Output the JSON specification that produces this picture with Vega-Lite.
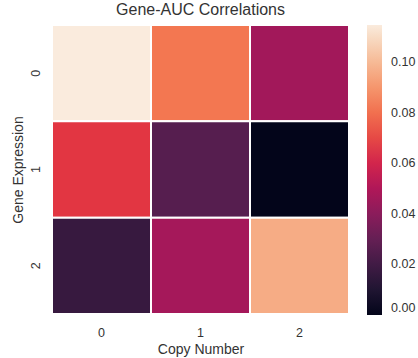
{
  "$schema": "https://vega.github.io/schema/vega-lite/v6.json",
  "width": 297,
  "height": 289,
  "autosize": {"type": "none"},
  "padding": {"left": 52, "top": 25, "right": 69, "bottom": 44},
  "background": "white",
  "title": {"text": "Gene-AUC Correlations", "fontSize": 16, "font": "Liberation Sans", "fontWeight": "normal", "color": "#333333", "offset": 6},
  "data": {"values": [
    {"cn": "0", "ge": "0", "v": 0.1146},
    {"cn": "1", "ge": "0", "v": 0.082},
    {"cn": "2", "ge": "0", "v": 0.046},
    {"cn": "0", "ge": "1", "v": 0.066},
    {"cn": "1", "ge": "1", "v": 0.026},
    {"cn": "2", "ge": "1", "v": 0.0},
    {"cn": "0", "ge": "2", "v": 0.017},
    {"cn": "1", "ge": "2", "v": 0.047},
    {"cn": "2", "ge": "2", "v": 0.096}
  ]},
  "mark": {"type": "rect", "stroke": "white", "strokeWidth": 2},
  "encoding": {
    "x": {"field": "cn", "type": "ordinal", "title": "Copy Number",
      "scale": {"paddingInner": 0, "paddingOuter": 0},
      "axis": {"labelAngle": 0, "domain": false, "ticks": false, "labelPadding": 12, "labelFontSize": 12.5, "titleFontSize": 14, "titleFontWeight": "normal", "labelFont": "Liberation Sans", "titleFont": "Liberation Sans", "labelColor": "#333333", "titleColor": "#333333", "titlePadding": 4}},
    "y": {"field": "ge", "type": "ordinal", "title": "Gene Expression",
      "scale": {"paddingInner": 0, "paddingOuter": 0},
      "axis": {"labelAngle": -90, "domain": false, "ticks": false, "labelPadding": 17, "labelFontSize": 12.5, "titleFontSize": 14, "titleFontWeight": "normal", "labelFont": "Liberation Sans", "titleFont": "Liberation Sans", "labelColor": "#333333", "titleColor": "#333333", "titlePadding": 4, "labelBaseline": "middle", "labelAlign": "center"}},
    "color": {"field": "v", "type": "quantitative",
      "scale": {"domain": [0, 0.1146], "range": ["#03051a", "#35193e", "#701f57", "#ad1759", "#e13342", "#f37651", "#f6b48f", "#faebdd"]},
      "legend": {"title": null, "gradientLength": 290, "gradientThickness": 15, "offset": 18, "values": [0, 0.02, 0.04, 0.06, 0.08, 0.1], "format": ".2f", "labelFontSize": 12.5, "labelFont": "Liberation Sans", "labelColor": "#333333", "labelOffset": 9, "gradientStrokeWidth": 0}}
  },
  "config": {"view": {"stroke": null}}
}
